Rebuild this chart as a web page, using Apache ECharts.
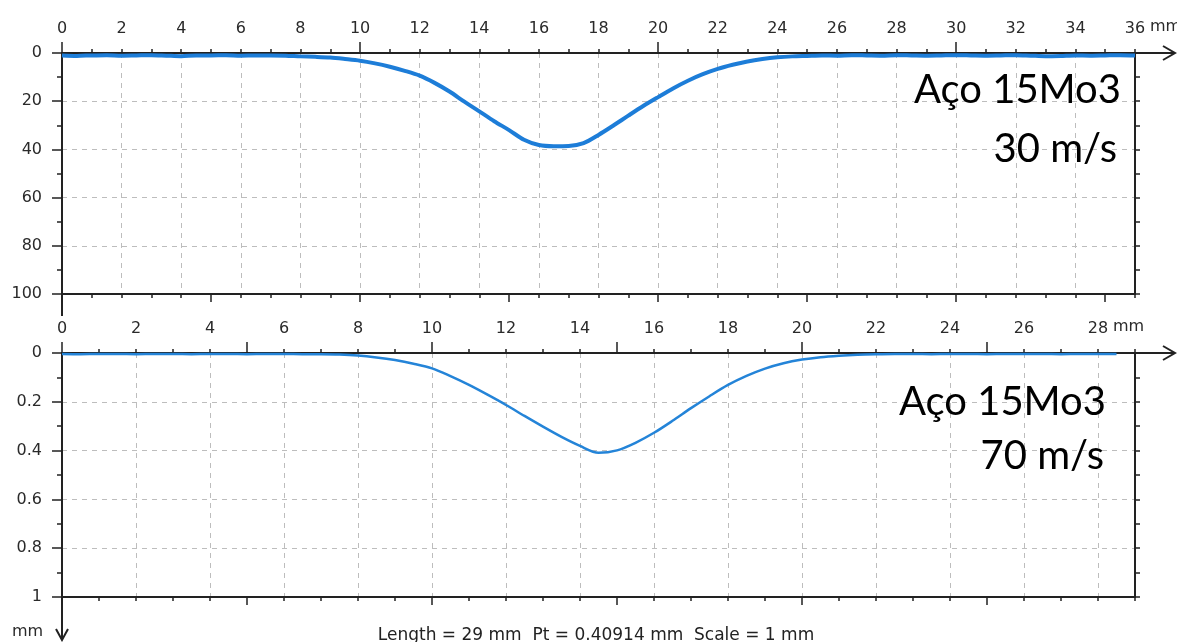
<!DOCTYPE html>
<html>
<head>
<meta charset="utf-8">
<script src="https://cdn.jsdelivr.net/npm/echarts@6/dist/echarts.min.js"></script>
<style>
  html, body { margin: 0; padding: 0; background: #fff; }
  #chart { width: 1177px; height: 642px; }
</style>
</head>
<body>
<div id="chart"></div>
<script>
// Profile at 30 m/s: position along track (mm) and depth (µm)
const pos30 = [0,0.5,1,1.5,2,2.5,3,3.5,4,4.5,5,5.5,6,6.5,7,7.5,8,8.5,9,9.5,10,10.5,11,11.5,12,12.5,13,13.5,14,14.5,15,15.5,16,16.5,17,17.5,18,18.5,19,19.5,20,20.5,21,21.5,22,22.5,23,23.5,24,24.5,25,25.5,26,26.5,27,27.5,28,28.5,29,29.5,30,30.5,31,31.5,32,32.5,33,33.5,34,34.5,35,35.5,36];
const depth30 = [1.0,1.2,1.0,0.9,1.1,1.0,0.9,1.1,1.3,1.0,1.0,0.9,1.1,1.0,1.0,1.1,1.4,1.6,1.9,2.5,3.2,4.3,5.7,7.4,9.4,12.4,16.0,20.2,24.2,28.3,32.0,36.0,38.2,38.7,38.6,37.4,34.0,30.1,26.0,22.0,18.3,14.7,11.5,8.8,6.6,4.9,3.5,2.5,1.8,1.4,1.2,1.0,1.1,0.9,1.0,1.1,0.9,1.0,1.1,1.0,0.9,1.0,1.1,1.0,0.9,1.1,1.3,1.2,1.0,1.1,1.0,0.9,1.0];

// Profile at 70 m/s: position (mm) and depth (mm)
const pos70 = [0,0.5,1,1.5,2,2.5,3,3.5,4,4.5,5,5.5,6,6.5,7,7.5,8,8.5,9,9.5,10,10.5,11,11.5,12,12.5,13,13.5,14,14.5,15,15.5,16,16.5,17,17.5,18,18.5,19,19.5,20,20.5,21,21.5,22,22.5,23,23.5,24,24.5,25,25.5,26,26.5,27,27.5,28,28.5];
const depth70 = [0.004,0.005,0.004,0.004,0.005,0.004,0.004,0.005,0.004,0.004,0.005,0.004,0.004,0.005,0.005,0.006,0.010,0.018,0.029,0.044,0.063,0.095,0.131,0.171,0.213,0.258,0.302,0.344,0.381,0.40914,0.399,0.368,0.327,0.278,0.226,0.177,0.131,0.094,0.064,0.042,0.027,0.017,0.011,0.007,0.005,0.004,0.004,0.005,0.004,0.004,0.005,0.004,0.004,0.004,0.005,0.004,0.004,0.004];

// Axis ranges and tick settings per panel
const xMax30 = 36, xMax70 = 29;
const xLongTicks30 = [0, 10, 20, 30];
const xLongTicks70 = [0, 5, 10, 15, 20, 25];
const yMax30 = 100, yStep30 = 20, yMinor30 = 10;
const yMax70 = 1, yStep70 = 0.2, yMinor70 = 0.1;

const panelTitles = [['Aço 15Mo3', '30 m/s'], ['Aço 15Mo3', '70 m/s']];

const INK = '#222';
const GRID_LINE = '#bdbdbd';
const CURVE = '#1d7dd8';
const LABEL_FONT = 'DejaVu Sans';
const LABEL_SIZE = 16;

const grids = [
  { left: 62, top: 53, width: 1073, height: 241 },
  { left: 62, top: 353, width: 1073, height: 244 }
];

function xAxesFor(g, xMax, longTicks) {
  const base = { type: 'value', gridIndex: g, min: 0, max: xMax, splitLine: { show: false } };
  const ink = { color: INK, width: 1.5 };
  return [
    // labelled top axis with dashed vertical grid lines
    Object.assign({}, base, {
      position: 'top', interval: 2,
      axisLine: { show: true, onZero: false, lineStyle: { color: INK, width: 2 } },
      axisTick: { show: false },
      axisLabel: {
        show: true, margin: 16, color: '#2a2a2a', fontFamily: LABEL_FONT, fontSize: LABEL_SIZE,
        showMinLabel: true, showMaxLabel: true, hideOverlap: false,
        formatter: v => (v > xMax - 1 && v % 2 !== 0) ? '' : String(v)
      },
      splitLine: { show: true, lineStyle: { color: GRID_LINE, width: 1, type: [5, 5] } }
    }),
    // 1 mm ticks on the top axis
    Object.assign({}, base, {
      position: 'top', interval: 1,
      axisLine: { show: false, onZero: false },
      axisTick: { show: true, length: 4, lineStyle: ink },
      axisLabel: { show: false }
    }),
    // long ticks on the top axis
    Object.assign({}, base, {
      position: 'top',
      axisLine: { show: false, onZero: false },
      axisTick: { show: true, length: 11, customValues: longTicks, lineStyle: ink },
      axisLabel: { show: false }
    }),
    // bottom frame axis with 1 mm ticks
    Object.assign({}, base, {
      position: 'bottom', interval: 1,
      axisLine: { show: true, onZero: false, lineStyle: { color: INK, width: 2 } },
      axisTick: { show: true, length: 4, lineStyle: ink },
      axisLabel: { show: false }
    }),
    // long ticks on the bottom frame
    Object.assign({}, base, {
      position: 'bottom',
      axisLine: { show: false, onZero: false },
      axisTick: { show: true, length: 8, customValues: [0, 5, 10, 15, 20, 25, 30, 35].filter(v => v < xMax), lineStyle: ink },
      axisLabel: { show: false }
    })
  ];
}

function yAxesFor(g, yMax, step, minor) {
  const ink = { color: INK, width: 1.5 };
  return [
    {
      type: 'value', gridIndex: g, position: 'left', inverse: true, min: 0, max: yMax, interval: step,
      axisLine: { show: true, onZero: false, lineStyle: { color: INK, width: 2 } },
      axisTick: { show: true, length: 10, lineStyle: ink },
      minorTick: { show: true, splitNumber: 2, length: 5, lineStyle: ink },
      axisLabel: { show: true, margin: 20, color: '#2a2a2a', fontFamily: LABEL_FONT, fontSize: LABEL_SIZE, hideOverlap: false },
      splitLine: { show: true, lineStyle: { color: GRID_LINE, width: 1, type: [5, 5] } }
    },
    {
      type: 'value', gridIndex: g, position: 'right', inverse: true, min: 0, max: yMax, interval: minor,
      axisLine: { show: true, onZero: false, lineStyle: { color: INK, width: 2 } },
      axisTick: { show: true, length: 5, lineStyle: ink },
      axisLabel: { show: false },
      splitLine: { show: false }
    }
  ];
}

const xAxes = [].concat(xAxesFor(0, xMax30, xLongTicks30), xAxesFor(1, xMax70, xLongTicks70));
const yAxes = [].concat(yAxesFor(0, yMax30, yStep30, yMinor30), yAxesFor(1, yMax70, yStep70, yMinor70));

const peak70 = Math.max(...depth70);

// Axis arrows, extensions and text drawn around the two plots
function decorations() {
  const els = [];
  const stroke = { stroke: INK, lineWidth: 2, fill: 'none' };
  const captionY = [[90, 149], [402, 456]];
  const captionRight = [[1121, 1117], [1106, 1104]];
  grids.forEach((gr, i) => {
    const right = gr.left + gr.width;
    // x-axis extension with open arrow head
    els.push({ type: 'line', shape: { x1: right, y1: gr.top, x2: 1175, y2: gr.top }, style: stroke, z: 10 });
    els.push({ type: 'polyline', shape: { points: [[1163, gr.top - 7], [1175, gr.top], [1163, gr.top + 7]] }, style: stroke, z: 10 });
    // unit after the last x label
    els.push({ type: 'text', x: i === 0 ? 1150 : 1113, y: gr.top - 26,
      style: { text: 'mm', fill: '#2a2a2a', font: LABEL_SIZE + 'px "DejaVu Sans"', verticalAlign: 'middle', align: 'left' } });
    // panel caption
    panelTitles[i].forEach((t, k) => {
      els.push({ type: 'text', x: captionRight[i][k], y: captionY[i][k],
        style: { text: t, fill: '#000', font: '40px Lato', align: 'right', verticalAlign: 'middle' }, z: 20 });
    });
  });
  // left axis continuing below each plot
  els.push({ type: 'line', shape: { x1: 62, y1: 294, x2: 62, y2: 316 }, style: stroke });
  els.push({ type: 'line', shape: { x1: 62, y1: 597, x2: 62, y2: 640 }, style: stroke });
  els.push({ type: 'polyline', shape: { points: [[56, 629], [62, 640], [68, 629]] }, style: stroke });
  els.push({ type: 'text', x: 12, y: 632,
    style: { text: 'mm', fill: '#2a2a2a', font: LABEL_SIZE + 'px "DejaVu Sans"', verticalAlign: 'middle', align: 'left' } });
  // measurement summary
  els.push({ type: 'text', x: 596, y: 636,
    style: { text: 'Length = ' + xMax70 + ' mm  Pt = ' + peak70.toFixed(5) + ' mm  Scale = 1 mm',
      fill: '#222', font: '17px "DejaVu Sans"', align: 'center', verticalAlign: 'middle' } });
  return els;
}

const chart = echarts.init(document.getElementById('chart'), null, { renderer: 'canvas' });
chart.setOption({
  animation: false,
  backgroundColor: '#fff',
  grid: grids.map(g => Object.assign({ containLabel: false, outerBoundsMode: 'none' }, g)),
  xAxis: xAxes,
  yAxis: yAxes,
  series: [
    {
      type: 'line', xAxisIndex: 0, yAxisIndex: 0,
      data: pos30.map((x, i) => [x, depth30[i]]),
      showSymbol: false, smooth: 0.3,
      lineStyle: { color: CURVE, width: 4 }, z: 5
    },
    {
      type: 'line', xAxisIndex: 5, yAxisIndex: 2,
      data: pos70.map((x, i) => [x, depth70[i]]),
      showSymbol: false, smooth: 0.3,
      lineStyle: { color: '#2484d8', width: 2.5 }, z: 5
    }
  ],
  graphic: decorations()
});
</script>
</body>
</html>
